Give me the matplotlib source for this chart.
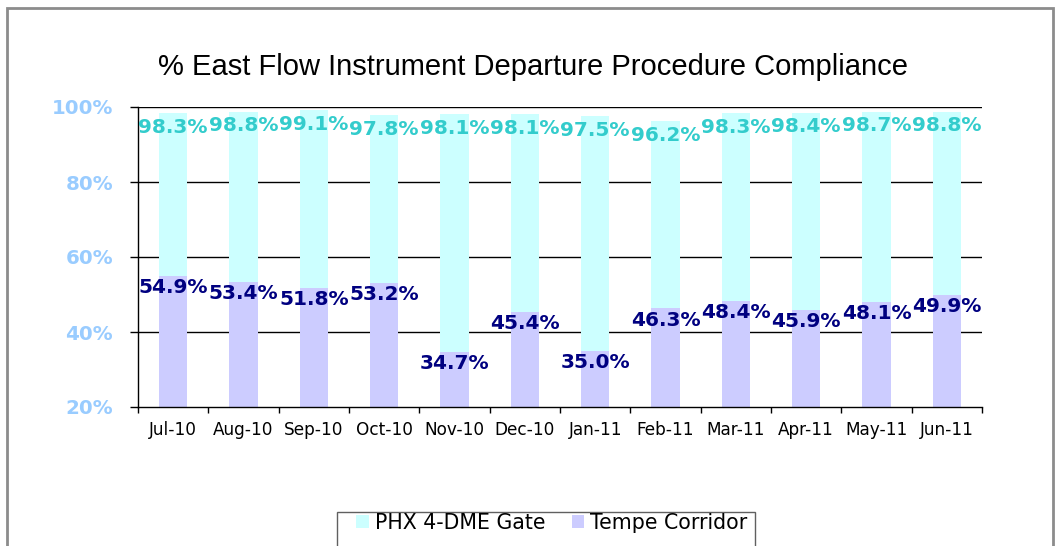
import matplotlib
matplotlib.use("Agg")
import matplotlib.pyplot as plt
from matplotlib.patches import Rectangle
from matplotlib.ticker import FixedLocator, FuncFormatter
import numpy as np

months = ["Jul-10", "Aug-10", "Sep-10", "Oct-10", "Nov-10", "Dec-10",
          "Jan-11", "Feb-11", "Mar-11", "Apr-11", "May-11", "Jun-11"]
phx_gate = [98.3, 98.8, 99.1, 97.8, 98.1, 98.1, 97.5, 96.2, 98.3, 98.4, 98.7, 98.8]
tempe_corridor = [54.9, 53.4, 51.8, 53.2, 34.7, 45.4, 35.0, 46.3, 48.4, 45.9, 48.1, 49.9]
y_ticks = [20, 40, 60, 80, 100]
series_names = ["PHX 4-DME Gate", "Tempe Corridor"]
title = "% East Flow Instrument Departure Procedure Compliance"

W, H = 1056, 546
fig = plt.figure(figsize=(W / 100, H / 100), dpi=100)
fig.patch.set_facecolor("white")

# outer frame
fig.patches.append(Rectangle((7 / W, -0.1), (1053 - 7) / W, 1.1 - 8 / H,
                             transform=fig.transFigure, fill=False,
                             edgecolor="#8c8c8c", linewidth=2, clip_on=False))

ax = fig.add_axes([138 / W, 1 - 407 / H, (982 - 138) / W, (407 - 107) / H])

x = np.arange(len(months))
c_phx, c_tempe = "#CCFFFF", "#CCCCFF"
ax.bar(x, phx_gate, width=0.4, color=c_phx, zorder=2, label=series_names[0])
ax.bar(x, tempe_corridor, width=0.4, color=c_tempe, zorder=3, label=series_names[1])

lab_font = dict(family="DejaVu Sans", weight="bold", size=14.5)
for xi, v in zip(x, phx_gate):
    ax.annotate(f"{v:.1f}%", (xi, v), xytext=(0, -10), textcoords="offset points",
                ha="center", va="center", color="#33CCCC", zorder=5, **lab_font)
for xi, v in zip(x, tempe_corridor):
    ax.annotate(f"{v:.1f}%", (xi, v), xytext=(0, -8.5), textcoords="offset points",
                ha="center", va="center", color="#000080", zorder=5, **lab_font)

ax.set_xlim(-0.5, len(months) - 0.5)
ax.set_ylim(20, 100)
for s in ["top", "right"]:
    ax.spines[s].set_visible(False)
for s in ["left", "bottom"]:
    ax.spines[s].set_color("black")
    ax.spines[s].set_linewidth(1)
    ax.spines[s].set_zorder(4)

ax.yaxis.set_major_locator(FixedLocator(y_ticks))
ax.yaxis.set_major_formatter(FuncFormatter(lambda v, p: f"{v:.0f}%"))
for yv in y_ticks[1:]:
    ax.axhline(yv, color="black", linewidth=1, zorder=1)
ax.tick_params(axis="y", length=6, width=1, pad=12, colors="black", labelcolor="#99CCFF")
for t in ax.get_yticklabels():
    t.set_fontfamily("DejaVu Sans")
    t.set_fontweight("bold")
    t.set_fontsize(14.3)

ax.set_xticks(x)
ax.set_xticklabels(months, fontfamily="DejaVu Sans", fontsize=12.2)
ax.set_xticks(np.arange(-0.5, len(months)), minor=True)
ax.tick_params(axis="x", which="major", length=0, pad=10)
ax.tick_params(axis="x", which="minor", length=4, width=1, color="black")

fig.text(533 / W, 1 - 67 / H, title, ha="center", va="center",
         fontfamily="Liberation Sans", fontsize=21, color="black")

# legend
fig.patches.append(Rectangle((337 / W, -0.1), (755 - 337) / W, 0.1 + 1 - 512 / H,
                             transform=fig.transFigure, fill=False,
                             edgecolor="#606060", linewidth=1, clip_on=False))
leg = fig.legend(loc="center", bbox_to_anchor=(552 / W, 1 - 523 / H), ncol=2,
                 frameon=False, handlelength=0.6, handleheight=0.6,
                 handletextpad=0.3, columnspacing=1.3,
                 prop=dict(family="DejaVu Sans", size=14.8))

fig.savefig("out.png", dpi=100, facecolor="white")
